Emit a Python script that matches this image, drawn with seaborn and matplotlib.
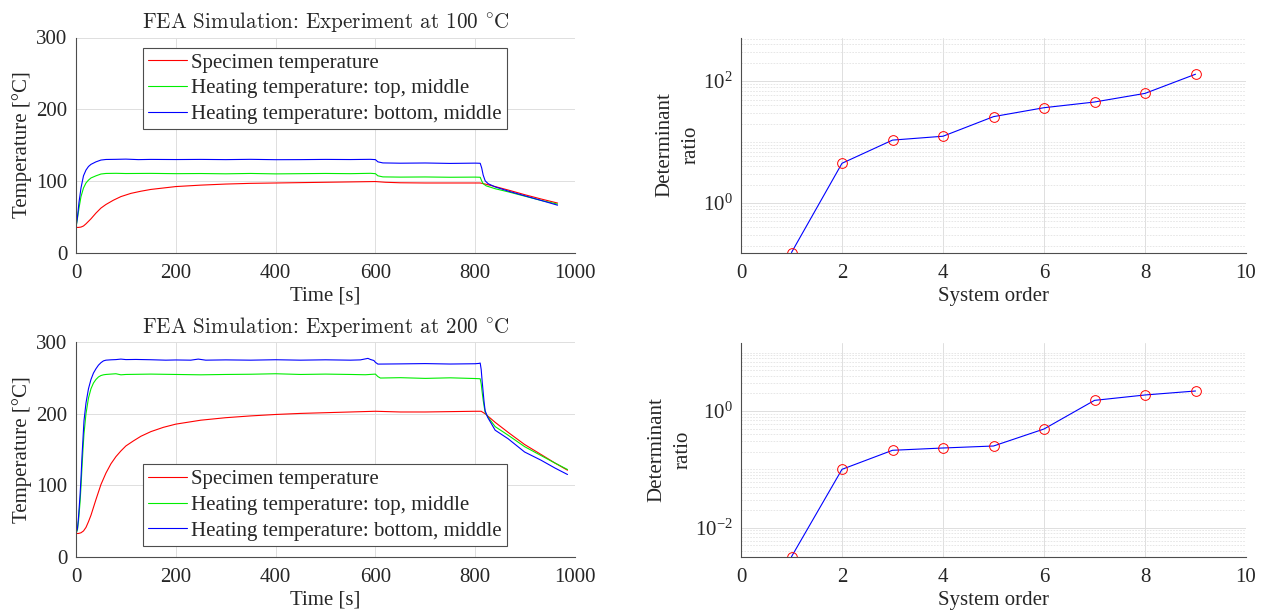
import numpy as np
import pandas as pd
import matplotlib
matplotlib.use("Agg")
import matplotlib.pyplot as plt
import seaborn as sns
from matplotlib.ticker import LogLocator, FixedLocator, NullFormatter, FixedFormatter

# ---------------- data ----------------
series_labels = ["Specimen temperature",
                 "Heating temperature: top, middle",
                 "Heating temperature: bottom, middle"]
series_colors = ["#ff0000", "#00ee00", "#0000ff"]

# Experiment at 100 C
t_spec_100 = [0, 5, 10, 15, 20, 30, 40, 50, 60, 75, 90, 110, 130, 150, 175, 200, 250, 300, 350, 400,
              450, 500, 550, 600, 620, 650, 700, 750, 800, 810, 820, 840, 867, 900, 933, 965]
T_spec_100 = [35, 35, 35.5, 37, 40, 47, 55, 62, 67, 73, 78, 82.5, 85.5, 88, 90, 92, 94, 95.5, 96.5, 97,
              97.5, 98, 98.5, 99, 98, 97.3, 97, 97, 97, 97, 95.5, 92, 87, 80.5, 74.5, 69]
t_top_100 = [0, 3, 6, 10, 15, 20, 25, 30, 40, 50, 60, 80, 100, 150, 200, 250, 300, 350, 400, 450,
             500, 550, 590, 600, 605, 615, 650, 700, 750, 800, 810, 813, 816, 822, 840, 867, 900, 933, 965]
T_top_100 = [35, 48, 62, 78, 90, 97, 101, 104, 107, 109.5, 110.3, 110.5, 110.2, 110.4, 110, 110.2, 109.8, 110.3, 109.7, 110,
             110.3, 110, 110.5, 110, 107, 105.5, 105.2, 105.4, 105, 105.2, 105, 100, 96, 93, 89, 84.5, 78.5, 72.5, 67.5]
t_bot_100 = [0, 3, 6, 10, 15, 20, 25, 30, 40, 50, 60, 80, 100, 125, 150, 200, 250, 300, 350, 400,
             450, 500, 550, 590, 600, 605, 615, 650, 700, 750, 800, 810, 813, 816, 820, 826, 840, 867, 900, 933, 965]
T_bot_100 = [35, 50, 70, 90, 107, 115, 120, 123, 126.5, 129, 129.8, 130, 130.3, 129.6, 129.9, 129.7, 129.9, 129.6, 130, 129.5,
             129.6, 129.9, 129.7, 130, 129.6, 126.5, 125, 124.6, 124.9, 124.3, 124.7, 124.5, 118, 108, 100, 96, 91.5, 85.5, 79, 72.5, 66]

# Experiment at 200 C
t_spec_200 = [0, 5, 10, 15, 20, 25, 30, 40, 50, 60, 70, 80, 90, 100, 115, 130, 150, 175, 200, 250, 300, 350,
              400, 450, 500, 550, 600, 650, 700, 750, 800, 812, 820, 840, 866, 899, 932, 960, 985]
T_spec_200 = [32.5, 32.5, 33.5, 36, 41, 49, 58, 80, 101, 117, 130, 140, 148, 155, 162, 168.5, 175, 181, 185.5, 191, 194.5, 197,
              199, 200.5, 201.5, 202.5, 203.5, 202.5, 202.5, 203, 203.5, 203.5, 200, 188, 174, 157, 143, 131, 121]
t_top_200 = [0, 3, 5, 8, 10, 12, 14, 16, 20, 25, 30, 35, 40, 45, 50, 55, 60, 80, 90, 100, 150, 200, 250, 300,
             350, 400, 450, 500, 550, 580, 600, 605, 610, 650, 700, 750, 800, 810, 812, 814, 816, 818, 820, 825,
             840, 866, 899, 932, 960, 985]
T_top_200 = [32.5, 38, 50, 75, 98, 125, 150, 172, 200, 222, 235, 243, 248, 251.5, 253.5, 254.5, 255, 256, 254.5, 255, 255.5, 255, 254.5, 255,
             255.3, 256, 255, 255.5, 255, 254.6, 255.5, 252, 250, 250.5, 249.5, 250.3, 249.3, 249, 242, 230, 219, 210, 202, 196,
             182, 170, 154, 141.5, 131, 122]
t_bot_200 = [0, 3, 5, 8, 10, 12, 14, 16, 20, 25, 30, 35, 40, 45, 50, 55, 60, 70, 80, 90, 100, 120, 150, 180, 200,
             230, 245, 260, 300, 350, 400, 450, 500, 550, 570, 580, 585, 590, 597, 600, 605, 650, 700, 750, 800,
             808, 810, 812, 814, 816, 818, 820, 825, 840, 866, 899, 932, 960, 985]
T_bot_200 = [32.5, 40, 55, 85, 110, 140, 165, 190, 215, 235, 248, 257, 263, 268, 271.5, 274, 275, 275.5, 275.8, 276.5, 275.8, 276, 275.6, 275, 275.3,
             275, 276.5, 275, 275.4, 275, 275.6, 275, 275.5, 275, 275.4, 276.8, 277.5, 276, 274.5, 272, 269.5, 269.8, 270.2, 269.6, 270,
             270.5, 271, 262, 245, 230, 215, 204, 195, 177, 165, 146.5, 135, 124, 115]

# Determinant ratio vs system order
order = [1, 2, 3, 4, 5, 6, 7, 8, 9]
det_ratio_100 = [0.155, 4.5, 10.8, 12.5, 26.2, 36.7, 45.5, 63.0, 130.0]
det_ratio_200 = [0.00318, 0.100, 0.212, 0.232, 0.251, 0.491, 1.52, 1.88, 2.20]

titles = [r"FEA Simulation: Experiment at 100 $^{\circ}$C",
          r"FEA Simulation: Experiment at 200 $^{\circ}$C"]

# ---------------- style ----------------
sns.set_theme(style="white")
dark = "#262626"
FS = 15
plt.rcParams.update({
    "font.family": ["Liberation Serif", "DejaVu Serif"],
    "mathtext.fontset": "custom",
    "mathtext.rm": "Liberation Serif",
    "mathtext.it": "Liberation Serif:italic",
    "font.size": FS,
    "axes.labelsize": FS,
    "axes.titlesize": FS,
    "xtick.labelsize": FS,
    "ytick.labelsize": FS,
    "legend.fontsize": FS,
    "text.color": dark,
    "axes.labelcolor": dark,
    "xtick.color": dark,
    "ytick.color": dark,
    "axes.edgecolor": dark,
})

fig = plt.figure(figsize=(12.68, 6.12), dpi=100)
W, H = 1268, 612
def add_ax(x0, y0, x1, y1):
    return fig.add_axes([x0 / W, 1 - y1 / H, (x1 - x0) / W, (y1 - y0) / H])

ax_tl = add_ax(76, 37.5, 575, 252.5)
ax_bl = add_ax(76, 342.3, 575, 556.7)
ax_tr = add_ax(741, 37.5, 1246, 252.5)
ax_br = add_ax(741, 342.7, 1246, 556.7)

def style_ax(ax):
    for s in ["top", "right"]:
        ax.spines[s].set_visible(False)
    for s in ["left", "bottom"]:
        ax.spines[s].set_linewidth(0.8)
        ax.spines[s].set_color("#4d4d4d")
    ax.tick_params(direction="in", length=4, width=0.6, which="major")
    ax.tick_params(axis="x", pad=8)
    ax.tick_params(axis="y", pad=6)
    ax.tick_params(direction="in", length=2, width=0.5, which="minor")
    ax.grid(True, which="major", color="#dedede", linewidth=0.7)
    ax.set_axisbelow(True)

def temp_panel(ax, ts, Ts, title, legend_loc, legend_anchor):
    for t, T, c, lbl in zip(ts, Ts, series_colors, series_labels):
        sns.lineplot(x=t, y=T, color=c, label=lbl, ax=ax, linewidth=0.8,
                     estimator=None, sort=False)
    style_ax(ax)
    ax.set_xlim(0, 1000)
    ax.set_ylim(0, 300)
    ax.set_xticks([0, 200, 400, 600, 800, 1000])
    ax.set_yticks([0, 100, 200, 300])
    ax.set_xlabel("Time [s]", labelpad=3)
    ax.set_ylabel("Temperature [°C]", labelpad=3)
    ax.set_title(title, pad=7, fontfamily="cmr10", math_fontfamily="cm", fontsize=15.2)
    leg = ax.legend(loc=legend_loc, bbox_to_anchor=legend_anchor, frameon=True, fancybox=False,
                    edgecolor="#4d4d4d", framealpha=1, handlelength=1.85, handletextpad=0.2,
                    labelspacing=0.3, borderpad=0.25, borderaxespad=0)
    leg.get_frame().set_linewidth(0.8)

temp_panel(ax_tl, [t_spec_100, t_top_100, t_bot_100], [T_spec_100, T_top_100, T_bot_100],
           titles[0], "upper left", (0.134, 0.952))
temp_panel(ax_bl, [t_spec_200, t_top_200, t_bot_200], [T_spec_200, T_top_200, T_bot_200],
           titles[1], "lower left", (0.134, 0.05))

def det_panel(ax, vals, ylim, major):
    sns.lineplot(x=order, y=vals, color="#0000ff", linewidth=0.8, ax=ax, estimator=None, sort=False,
                 marker="o", markersize=7, markerfacecolor="none", markeredgecolor="#ff0000",
                 markeredgewidth=0.7)
    ax.set_yscale("log")
    style_ax(ax)
    ax.set_xlim(0, 10)
    ax.set_ylim(*ylim)
    ax.set_xticks([0, 2, 4, 6, 8, 10])
    ax.yaxis.set_major_locator(FixedLocator([10.0 ** e for e in major]))
    ax.yaxis.set_major_formatter(FixedFormatter(["$10^{%d}$" % e for e in major]))
    ax.yaxis.set_minor_locator(LogLocator(base=10, subs=np.arange(1, 10), numticks=40))
    ax.yaxis.set_minor_formatter(NullFormatter())
    ax.grid(True, which="minor", axis="y", color="#e3e3e3", linewidth=0.6, linestyle=(0, (2, 1.5)))
    ax.set_xlabel("System order", labelpad=3)
    ax.set_ylabel("Determinant\nratio", labelpad=2, linespacing=1.5)

det_panel(ax_tr, det_ratio_100, (0.155, 520), [0, 2])
det_panel(ax_br, det_ratio_200, (0.00318, 14.8), [-2, 0])

fig.savefig("out.png", dpi=100)
